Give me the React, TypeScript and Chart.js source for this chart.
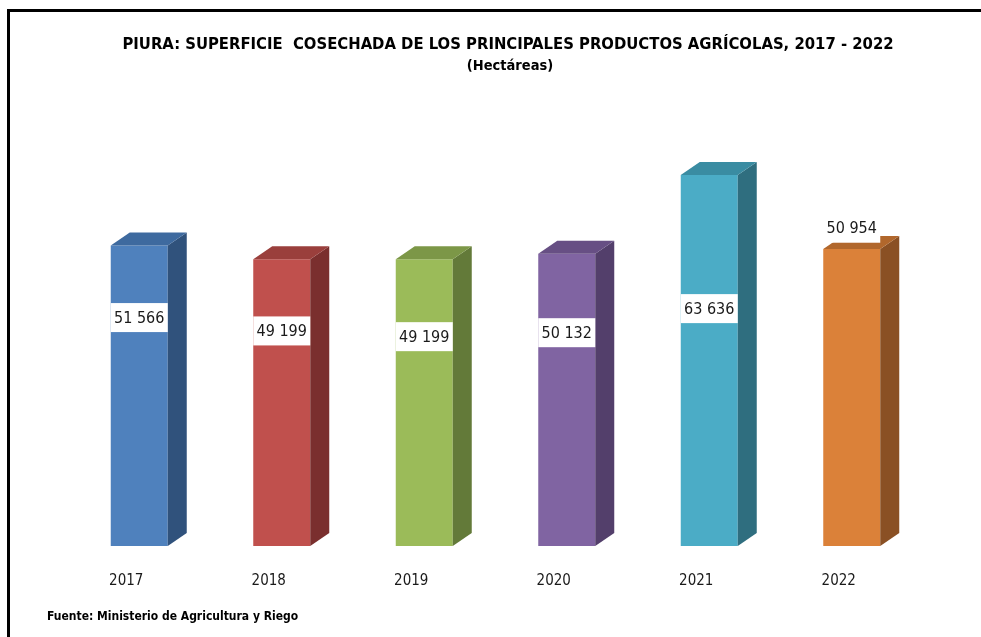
import React, { useEffect, useRef } from "react";
import { Chart, registerables } from "chart.js";

Chart.register(...registerables);

const years = ["2017", "2018", "2019", "2020", "2021", "2022"];
const hectares = [51566, 49199, 49199, 50132, 63636, 50954];

const titleText = "PIURA: SUPERFICIE  COSECHADA DE LOS PRINCIPALES PRODUCTOS AGRÍCOLAS, 2017 - 2022";
const subtitleText = "(Hectáreas)";
const sourceText = "Fuente: Ministerio de Agricultura y Riego";

const frontColors = ["#4F81BD", "#C0504D", "#9BBB59", "#8064A2", "#4BACC6", "#DB8139"];
const topColors = ["#3E6A9F", "#9A3F3C", "#7C9747", "#674F84", "#3A8CA2", "#B1672C"];
const sideColors = ["#30527C", "#7A2F2E", "#637A39", "#533F6B", "#2F6E7F", "#8A5024"];

// vertical anchor of each value label, as fraction of the bar height from its top
const labelAnchor = [0.24, 0.25, 0.27, 0.27, 0.36, -0.07];

const NARROW = "'Liberation Sans Narrow', 'Arial Narrow', 'DejaVu Sans Condensed', 'Liberation Sans', sans-serif";

const fmt = (v: number) => {
  const s = String(v);
  return s.length > 3 ? s.slice(0, s.length - 3) + " " + s.slice(s.length - 3) : s;
};

const DX = 19;
const DY = 13;

const bar3dPlugin = {
  id: "bar3d",
  afterDatasetsDraw(chart: any) {
    const ctx = chart.ctx as CanvasRenderingContext2D;
    const meta = chart.getDatasetMeta(0);
    const base = chart.scales.y.getPixelForValue(0);
    ctx.save();
    meta.data.forEach((bar: any, i: number) => {
      const { x, y, width } = bar.getProps(["x", "y", "width"], true);
      const l = x - width / 2;
      const r = x + width / 2;
      ctx.fillStyle = sideColors[i];
      ctx.beginPath();
      ctx.moveTo(r, y);
      ctx.lineTo(r + DX, y - DY);
      ctx.lineTo(r + DX, base - DY);
      ctx.lineTo(r, base);
      ctx.closePath();
      ctx.fill();
      ctx.fillStyle = topColors[i];
      ctx.beginPath();
      ctx.moveTo(l, y);
      ctx.lineTo(l + DX, y - DY);
      ctx.lineTo(r + DX, y - DY);
      ctx.lineTo(r, y);
      ctx.closePath();
      ctx.fill();
    });
    // value labels
    ctx.font = `16px ${NARROW}`;
    ctx.textAlign = "center";
    ctx.textBaseline = "middle";
    meta.data.forEach((bar: any, i: number) => {
      const { x, y, width } = bar.getProps(["x", "y", "width"], true);
      const h = base - y;
      const cy = y + labelAnchor[i] * h;
      ctx.fillStyle = "#FFFFFF";
      ctx.fillRect(x - width / 2, cy - 14.5, width, 29);
      ctx.fillStyle = "#1A1A1A";
      ctx.fillText(fmt(hectares[i]), x, cy + 1);
    });
    ctx.restore();
  },
  afterDraw(chart: any) {
    const ctx = chart.ctx as CanvasRenderingContext2D;
    ctx.save();
    ctx.fillStyle = "#000";
    ctx.textAlign = "center";
    ctx.textBaseline = "middle";
    ctx.font = `bold 16.5px ${NARROW}`;
    ctx.fillText(titleText, 508, 45);
    ctx.font = `bold 14.5px ${NARROW}`;
    ctx.fillText(subtitleText, 510, 66);
    ctx.textAlign = "left";
    ctx.font = `bold 12px ${NARROW}`;
    ctx.fillText(sourceText, 47, 617);
    // frame
    ctx.fillStyle = "#000";
    ctx.fillRect(7, 9, 981, 3);
    ctx.fillRect(7, 9, 3, 637);
    ctx.restore();
  },
};

export default function App() {
  const ref = useRef<HTMLCanvasElement | null>(null);
  useEffect(() => {
    if (!ref.current) return;
    const chart = new Chart(ref.current, {
      type: "bar",
      data: {
        labels: years,
        datasets: [
          {
            data: hectares,
            backgroundColor: frontColors,
            borderWidth: 0,
            barPercentage: 0.4,
            categoryPercentage: 1,
          },
        ],
      },
      options: {
        responsive: false,
        animation: false,
        layout: { padding: { left: 68, right: 58, top: 138, bottom: 21 } },
        plugins: {
          legend: { display: false },
          tooltip: { enabled: false },
          title: { display: false },
        },
        scales: {
          y: { display: false, min: 0, max: 70000 },
          x: {
            grid: { display: false, drawTicks: false },
            border: { display: false },
            ticks: {
              color: "#1A1A1A",
              padding: 26,
              labelOffset: -13,
              font: { family: NARROW, size: 15 },
            },
          },
        },
      },
      plugins: [bar3dPlugin],
    });
    return () => chart.destroy();
  }, []);
  return (
    <div style={{ position: "fixed", left: 0, top: 0, width: 981, height: 637, background: "#fff" }}>
      <canvas ref={ref} width={981} height={637} style={{ display: "block" }} />
    </div>
  );
}
